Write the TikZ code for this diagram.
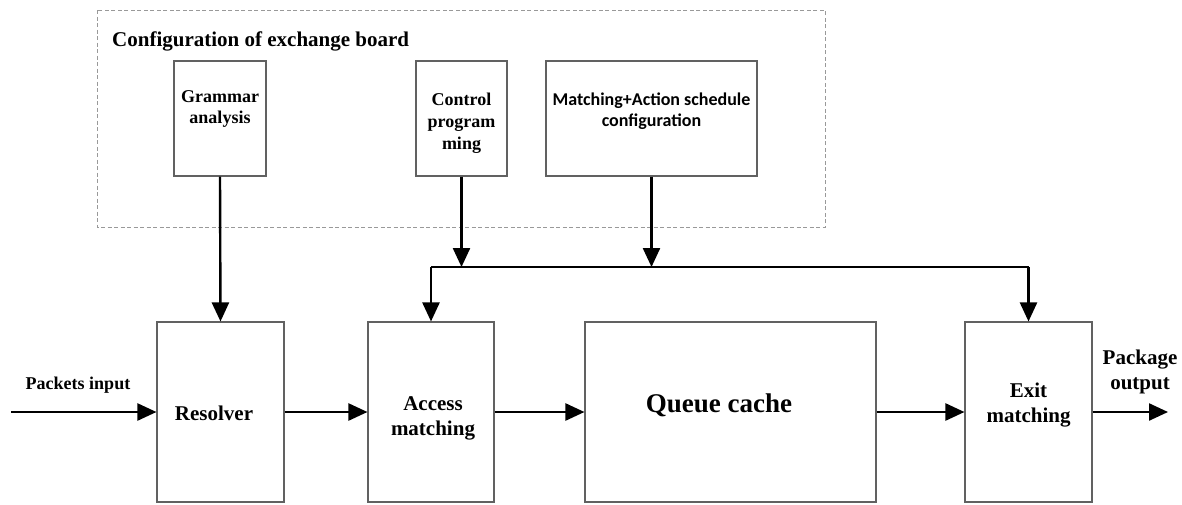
\documentclass[tikz,border=0pt]{standalone}
\usepackage{fontspec}
\setmainfont{Liberation Serif}
\newfontfamily\calib{Carlito}
\usetikzlibrary{arrows.meta}
\begin{document}
\begin{tikzpicture}[x=1pt,y=-1pt,
  box/.style={draw=black!62,line width=1.1pt,rectangle,inner sep=0pt},
  cfgframe/.style={draw=black!40,line width=0.9pt,dash pattern=on 4pt off 2.5pt},
  flow/.style={line width=2.4pt,-{Triangle[length=19pt,width=17pt]}},
  busline/.style={line width=2.4pt},
  txt/.style={font=\bfseries\fontsize{21}{25}\selectfont,align=center,inner sep=0pt},
  smalltxt/.style={font=\bfseries\fontsize{18}{21}\selectfont,align=center,inner sep=0pt}]
\useasboundingbox (0,0) rectangle (1182,504);

% configuration frame
\draw[cfgframe] (97,10) rectangle (825,227);
\node[txt,anchor=west] (cfgtitle) at (112,41) {Configuration of exchange board};

% configuration modules
\node[box,minimum width=92pt,minimum height=115pt] (gram) at (220,118.5) {};
\node[box,minimum width=91pt,minimum height=115pt] (ctrl) at (461.5,118.5) {};
\node[box,minimum width=211pt,minimum height=115pt] (mat) at (651.5,118.5) {};
\node[smalltxt] (gramtxt) at (220,109) {Grammar\\analysis};
\node[smalltxt,font=\bfseries\fontsize{18}{22}\selectfont] (ctrltxt) at (461.5,123) {Control\\program\\ming};
\node[smalltxt,font=\calib\bfseries\fontsize{18}{21}\selectfont] (mattxt) at (651.5,111) {Matching+Action schedule\\configuration};

% pipeline stages
\node[box,minimum width=127pt,minimum height=180pt] (res) at (220.5,412) {};
\node[box,minimum width=126pt,minimum height=180pt] (acc) at (431,412) {};
\node[box,minimum width=291pt,minimum height=180pt] (que) at (730.5,412) {};
\node[box,minimum width=127pt,minimum height=180pt] (exit) at (1028.5,412) {};
\node[txt] (restxt) at (214,413) {Resolver};
\node[txt] (acctxt) at (433,418) {Access\\matching};
\node[txt,font=\bfseries\fontsize{27}{32}\selectfont] (quetxt) at (719,405) {Queue cache};
\node[txt] (exittxt) at (1028.5,405) {Exit\\matching};

% outer labels
\node[smalltxt] (inlbl) at (78,385) {Packets input};
\node[txt] (outlbl) at (1140,372) {Package\\output};

% ends and bus
\coordinate (in) at (11,412);
\coordinate (out) at (1168,412);
\coordinate (busL) at (431,267);
\coordinate (busR) at (1028.5,267);
\coordinate (busC) at (461.5,267);
\coordinate (busM) at (651.5,267);

% connectors
\draw[flow] (gram.south) -- (res.north);
\draw[busline] (busL) -- (busR);
\draw[flow] (ctrl.south) -- (busC);
\draw[flow] (mat.south) -- (busM);
\draw[flow] (busL) -- (acc.north);
\draw[flow] (busR) -- (exit.north);
\draw[flow] (in) -- (res.west);
\draw[flow] (res.east) -- (acc.west);
\draw[flow] (acc.east) -- (que.west);
\draw[flow] (que.east) -- (exit.west);
\draw[flow] (exit.east) -- (out);
\end{tikzpicture}
\end{document}
